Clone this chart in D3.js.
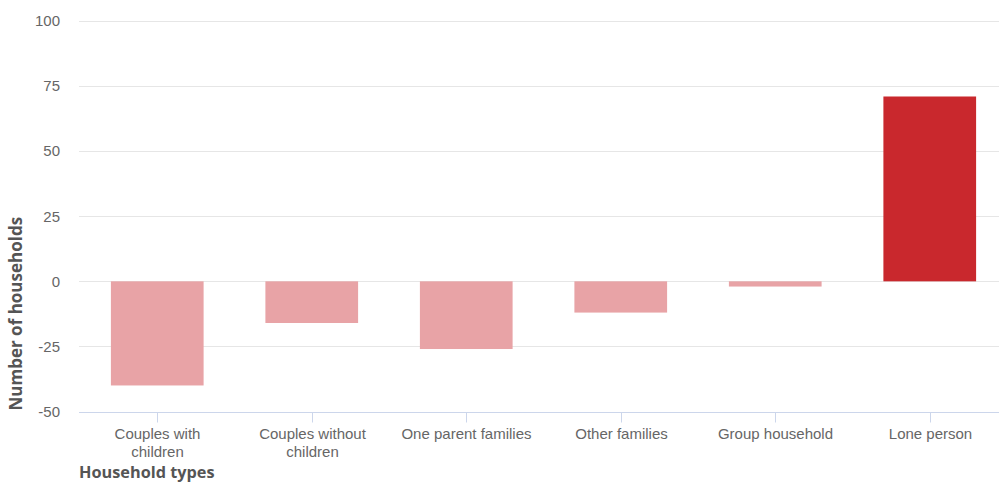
<!DOCTYPE html>
<html><head><meta charset="utf-8">
<script src="https://cdn.jsdelivr.net/npm/d3@7"></script>
<style>body{margin:0;background:#fff}svg{display:block}</style>
</head><body>
<script>
const categories = ["Couples with children","Couples without children","One parent families","Other families","Group household","Lone person"];
const labelLines = [["Couples with","children"],["Couples without","children"],["One parent families"],["Other families"],["Group household"],["Lone person"]];
const values = [-40, -16, -26, -12, -2, 71];
const yTicks = [-50, -25, 0, 25, 50, 75, 100];
const yTitle = "Number of households";
const xTitle = "Household types";

const W = 999, H = 483;
const m = {left: 79, right: -7, top: 21, bottom: 71.5};
const svg = d3.select("body").append("svg").attr("width", W).attr("height", H);

const x = d3.scaleBand().domain(categories).range([m.left + 1, W - m.right + 1]).paddingInner(0.4).paddingOuter(0.2);
const y = d3.scaleLinear().domain([-50, 100]).range([H - m.bottom, m.top]);

// gridlines
svg.append("g").selectAll("line").data(yTicks).join("line")
  .attr("x1", m.left).attr("x2", W).attr("y1", d => Math.round(y(d)) + 0.5).attr("y2", d => Math.round(y(d)) + 0.5)
  .attr("stroke", "#e6e6e6").attr("stroke-width", 1);

// y labels
svg.append("g").selectAll("text").data(yTicks).join("text")
  .attr("x", 60).attr("y", d => y(d)).attr("dy", "0.35em").attr("text-anchor", "end")
  .attr("font-family", "Liberation Sans, Arial, sans-serif").attr("font-size", 15).attr("fill", "#666")
  .text(d => d);

// bars
svg.append("g").selectAll("rect").data(values).join("rect")
  .attr("x", (d, i) => x(categories[i])).attr("width", x.bandwidth())
  .attr("y", d => y(Math.max(0, d))).attr("height", d => Math.abs(y(d) - y(0)))
  .attr("fill", (d, i) => i === values.length - 1 ? "#c9282d" : "#e8a3a6");

// x axis line
const axisY = Math.round(y(-50)) + 0.5;
svg.append("line").attr("x1", m.left).attr("x2", W).attr("y1", axisY).attr("y2", axisY).attr("stroke", "#ccd6eb");

// ticks + labels
const g = svg.append("g");
categories.forEach((c, i) => {
  const cx = Math.round(x(c) + x.bandwidth() / 2) + 0.5;
  g.append("line").attr("x1", cx).attr("x2", cx).attr("y1", axisY).attr("y2", axisY + 10).attr("stroke", "#ccd6eb");
  const t = g.append("text").attr("x", cx).attr("y", 439).attr("text-anchor", "middle")
    .attr("font-family", "Liberation Sans, Arial, sans-serif").attr("font-size", 15).attr("fill", "#666");
  labelLines[i].forEach((l, j) => t.append("tspan").attr("x", cx).attr("dy", j ? 18 : 0).text(l));
});

// titles
svg.append("text").attr("transform", `translate(22,${H - m.bottom - 1}) rotate(-90)`).attr("text-anchor", "start")
  .attr("font-family", "Open Sans, sans-serif").attr("font-weight", "bold").attr("font-size", 17).attr("fill", "#555")
  .text(yTitle);
svg.append("text").attr("x", 79).attr("y", 478)
  .attr("font-family", "Open Sans, sans-serif").attr("font-weight", "bold").attr("font-size", 16.3).attr("fill", "#555")
  .text(xTitle);
</script>
</body></html>
